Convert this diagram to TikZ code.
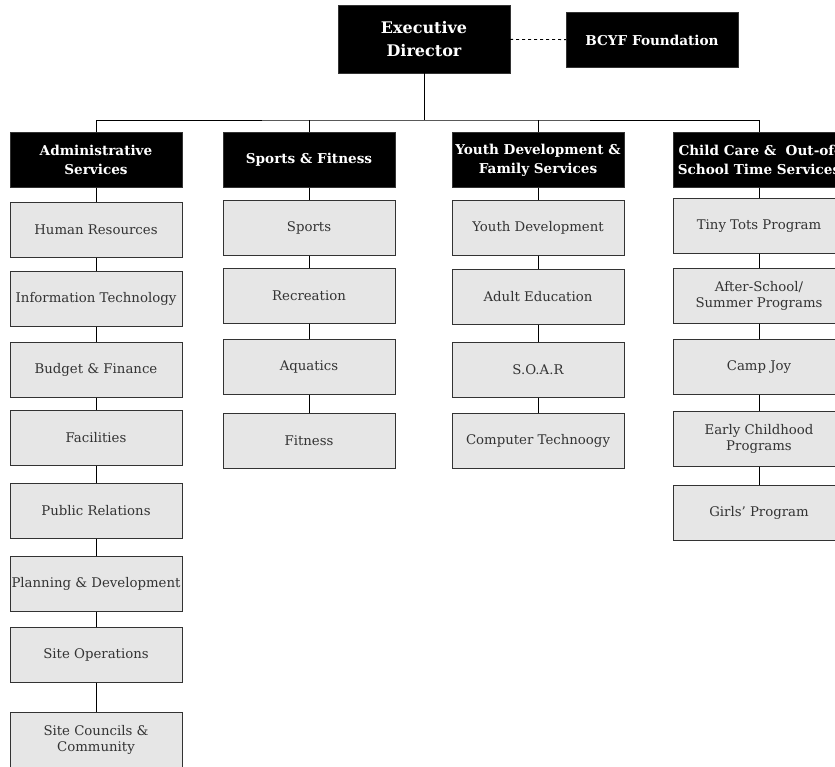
\documentclass[tikz,border=0pt]{standalone}
\usepackage{fontspec}
\setmainfont{DejaVu Serif}
\usetikzlibrary{positioning}
\definecolor{unitgray}{HTML}{E6E6E6}
\definecolor{inkgray}{HTML}{333333}
\tikzset{
  headbox/.style = {draw=black!80, fill=black, text=white, minimum width=172pt, minimum height=55pt, align=center, font=\bfseries\fontsize{13.6}{19}\selectfont, inner sep=1pt},
  topbox/.style  = {headbox, font=\bfseries\fontsize{16}{23}\selectfont},
  unitbox/.style = {draw=inkgray, thick, fill=unitgray, text=inkgray, minimum width=172pt, minimum height=55pt, align=center, font=\fontsize{13.3}{16.5}\selectfont, inner sep=1pt},
  link/.style    = {draw, thick}
}

\begin{document}
\begin{tikzpicture}[x=1pt, y=-1pt]
  \useasboundingbox[clip] (0,0) rectangle (835,766);
  % top level
  \node[topbox, minimum height=68pt] (ed) at (424,39) {Executive\\ Director};
  \node[headbox, minimum height=55pt] (bcyf) at (652,40) {BCYF Foundation};
  \draw[link, dashed] (ed) -- (bcyf);
  % departments
  \node[headbox] (admin) at (96,160) {Administrative\\ Services};
  \node[headbox] (sport) at (309,160) {Sports \& Fitness};
  \node[headbox] (youth) at (538,160) {Youth Development \&\\ Family Services};
  \node[headbox] (child) at (759,160) {Child Care \&\ \ Out-of-\\ School Time Services};
  \coordinate (bus) at (424,120);
  \draw[link] (ed) -- (bus);
  \draw[link] (admin.north) |- (bus) -| (child.north);
  \draw[link] (sport.north) -- (sport.north |- bus);
  \draw[link] (youth.north) -- (youth.north |- bus);
  % administrative services
  \node[unitbox] (hr)   at (96,230) {Human Resources};
  \node[unitbox] (it)   at (96,299) {Information Technology};
  \node[unitbox] (bud)  at (96,370) {Budget \& Finance};
  \node[unitbox] (fac)  at (96,438) {Facilities};
  \node[unitbox] (pr)   at (96,511) {Public Relations};
  \node[unitbox] (plan) at (96,584) {Planning \& Development};
  \node[unitbox] (site) at (96,655) {Site Operations};
  \node[unitbox] (coun) at (96,740) {Site Councils \&\\ Community};
  \draw[link] (admin) -- (hr) -- (it) -- (bud) -- (fac) -- (pr) -- (plan) -- (site) -- (coun);
  % sports & fitness
  \node[unitbox] (spo) at (309,228) {Sports};
  \node[unitbox] (rec) at (309,296) {Recreation};
  \node[unitbox] (aqu) at (309,367) {Aquatics};
  \node[unitbox] (fit) at (309,441) {Fitness};
  \draw[link] (sport) -- (spo) -- (rec) -- (aqu) -- (fit);
  % youth development & family services
  \node[unitbox] (ydev) at (538,228) {Youth Development};
  \node[unitbox] (adu)  at (538,297) {Adult Education};
  \node[unitbox] (soar) at (538,370) {S.O.A.R};
  \node[unitbox] (comp) at (538,441) {Computer Technoogy};
  \draw[link] (youth) -- (ydev) -- (adu) -- (soar) -- (comp);
  % child care & out-of-school time
  \node[unitbox] (tiny) at (759,226) {Tiny Tots Program};
  \node[unitbox] (aft)  at (759,296) {After-School/\\ Summer Programs};
  \node[unitbox] (camp) at (759,367) {Camp Joy};
  \node[unitbox] (early) at (759,439) {Early Childhood\\ Programs};
  \node[unitbox] (girl) at (759,513) {Girls' Program};
  \draw[link] (child) -- (tiny) -- (aft) -- (camp) -- (early) -- (girl);
\end{tikzpicture}
\end{document}
